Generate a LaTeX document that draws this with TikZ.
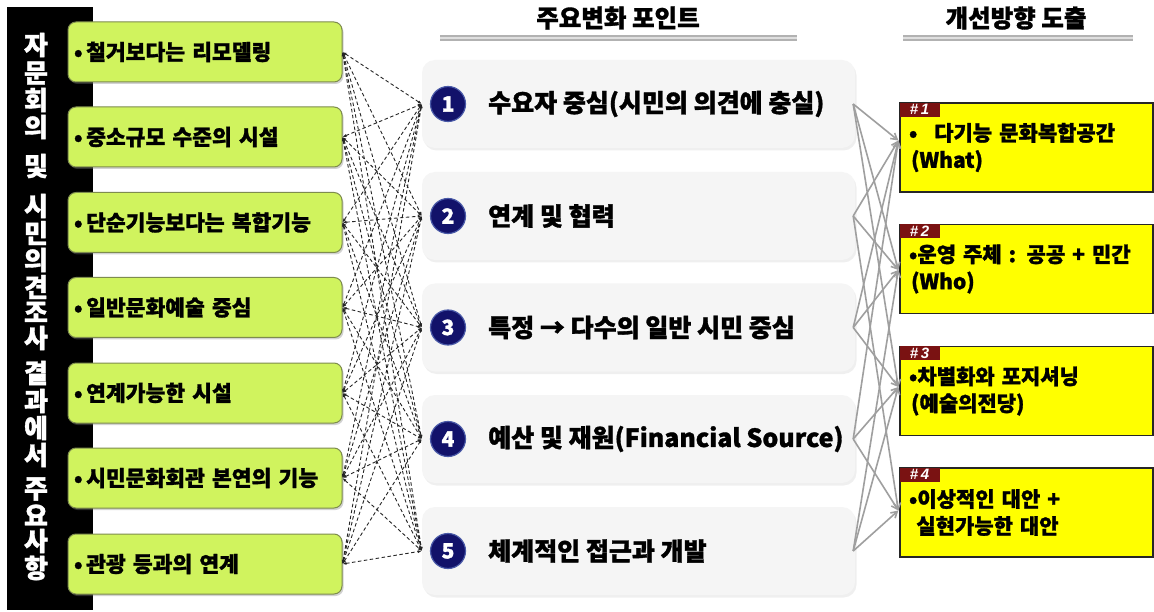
\documentclass[tikz,border=0pt]{standalone}
\usepackage{fontspec}
\setmainfont{Noto Sans CJK KR}[BoldFeatures={FakeBold=1.3}]
\newfontfamily\tabfont{Liberation Sans}
\usetikzlibrary{arrows.meta,shadows,calc}
\definecolor{limefill}{HTML}{D0F35E}
\definecolor{gborder}{HTML}{7E8C4E}
\definecolor{pfill}{HTML}{F5F5F5}
\definecolor{navyc}{HTML}{12126A}
\definecolor{navyr}{HTML}{4A5AA8}
\definecolor{tabred}{HTML}{7A1212}
\definecolor{ylw}{HTML}{FFFF00}
\tikzset{
 gbox/.style={draw=gborder, line width=1pt, fill=limefill, rounded corners=8pt,
   minimum width=274pt, minimum height=60pt, text width=262pt, inner xsep=6pt,
   align=left, font=\bfseries\fontsize{21.5}{24}\selectfont,
   drop shadow={opacity=0.35, shadow xshift=1.5pt, shadow yshift=-2pt}},
 pbox/.style={fill=pfill, rounded corners=13pt, minimum width=433pt, minimum height=88pt,
   drop shadow={opacity=0.12, shadow xshift=1.5pt, shadow yshift=-2.5pt}},
 numc/.style={circle, fill=navyc, draw=navyr, line width=1.2pt, minimum size=35pt,
   inner sep=0pt, text=white, font=\bfseries\fontsize{21}{21}\selectfont},
 ptext/.style={anchor=west, inner sep=0pt, font=\bfseries\fontsize{25}{27}\selectfont},
 ybox/.style={draw=black!85, line width=1.3pt, fill=ylw, minimum width=253pt,
   minimum height=89pt, text width=235pt, inner xsep=9pt, align=left,
   font=\bfseries\fontsize{21}{27}\selectfont},
 ytab/.style={fill=tabred, text=white, minimum width=40pt, minimum height=14pt,
   inner sep=0pt, anchor=north west, font=\tabfont\bfseries\itshape\fontsize{15}{15}\selectfont},
 dconn/.style={dash pattern=on 3.5pt off 2.5pt, line width=0.9pt, draw=black!85,
   {Latex[length=4pt,width=3pt]}-{Latex[length=4pt,width=3pt]}},
 sconn/.style={draw=gray!75, line width=1.6pt, -{Straight Barb[length=6pt,width=7pt]}},
 vchar/.style={text=white, inner sep=0pt, font=\bfseries\fontsize{26}{26}\selectfont},
 head/.style={inner sep=0pt, font=\bfseries\fontsize{24.5}{25}\selectfont},
 uline/.style={line width=6pt, draw=gray!60},
 ulinein/.style={line width=1.3pt, draw=gray!25},
}
\begin{document}
\begin{tikzpicture}[x=1pt,y=-1pt]
\useasboundingbox (0,0) rectangle (1154,612);
\fill[white] (0,0) rectangle (1154,612);

% black vertical bar with vertical text
\fill[black] (7,7) rectangle (93,610);
\foreach \c/\yy [count=\i] in {자/45,문/73,회/100,의/127,및/166,시/206,민/233,의/260,견/287,조/312,사/338,결/373,과/401,에/428,서/455,주/489,요/515,사/541,항/568}
  \node[vchar] (v\i) at (36,\yy) {\c};

% green boxes
\node[gbox] (g1) at (205,52)    {•\,철거보다는 리모델링};
\node[gbox] (g2) at (205,137)   {•\,중소규모 수준의 시설};
\node[gbox] (g3) at (205,222.5) {•\,단순기능보다는 복합기능};
\node[gbox] (g4) at (205,307.5) {•\,일반문화예술 중심};
\node[gbox] (g5) at (205,393)   {•\,연계가능한 시설};
\node[gbox] (g6) at (205,478)   {•\,시민문화회관 본연의 기능};
\node[gbox] (g7) at (205,564)   {•\,관광 등과의 연계};

% headings
\node[head] (h1) at (618,18) {주요변화 포인트};
\draw[uline] (440,38) -- (797,38);
\draw[ulinein] (440,38) -- (797,38);
\node[head] (h2) at (1016,18) {개선방향 도출};
\draw[uline] (903,38) -- (1133,38);
\draw[ulinein] (903,38) -- (1133,38);

% point boxes
\foreach \yy/\n/\t in {104/1/{수요자 중심(시민의 의견에 충실)},
                       216/2/{연계 및 협력},
                       327.5/3/{특정 → 다수의 일반 시민 중심},
                       439/4/{예산 및 재원(Financial Source)},
                       551/5/{체계적인 접근과 개발}}{
  \node[pbox] (p\n) at (638.5,\yy) {};
  \node[numc] (c\n) at (448,\yy) {\n};
  \node[ptext] (t\n) at (488,\yy) {\t};
}

% yellow boxes
\node[ybox] (y1) at (1026.5,147.5) {•\hspace{0.8em}다기능 문화복합공간\\\hspace{0.1em}(What)};
\node[ybox] (y2) at (1026.5,269)   {•운영 주체 : 공공 + 민간\\\hspace{0.1em}(Who)};
\node[ybox] (y3) at (1026.5,391)   {•차별화와 포지셔닝\\\hspace{0.1em}(예술의전당)};
\node[ybox] (y4) at (1026.5,512.5) {•이상적인 대안 +\\\hspace{0.35em}실현가능한 대안};
\foreach \i in {1,2,3,4}
  \node[ytab] (tab\i) at (y\i.north west) {\#\,\i};

% arrow targets on yellow boxes
\coordinate (a1) at ($(y1.west)+(-1,-7)$);
\coordinate (a2) at ($(y2.west)+(-1,1)$);
\coordinate (a3) at ($(y3.west)+(-1,-4)$);
\coordinate (a4) at ($(y4.west)+(-1,-2)$);

% dashed connectors: every green box to every point
\foreach \g in {1,...,7}
  \foreach \p in {1,...,5}
    \draw[dconn] (g\g.east) -- (p\p.west);

% solid connectors to improvement directions
\foreach \p/\a in {1/1,1/2,1/3,2/1,2/2,2/4,3/1,3/2,3/3,4/1,4/3,4/4,5/2,5/3,5/4}
  \draw[sconn] ($(p\p.east)+(-2,0)$) -- (a\a);
\end{tikzpicture}
\end{document}
